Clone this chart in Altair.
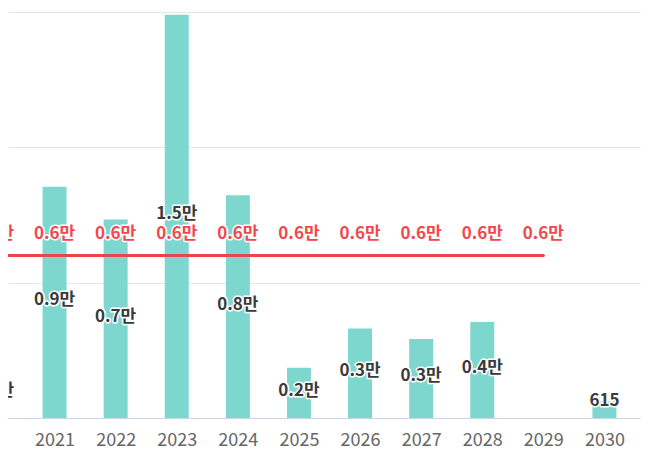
import altair as alt
import pandas as pd

years = [2020, 2021, 2022, 2023, 2024, 2025, 2026, 2027, 2028, 2029, 2030]
bar_values = [1850, 8540, 7330, 14900, 8230, 1860, 3310, 2920, 3550, None, 615]
bar_labels = ["0.2만", "0.9만", "0.7만", "1.5만", "0.8만", "0.2만", "0.3만", "0.3만", "0.4만", "", "615"]

line_years = [2020, 2021, 2022, 2023, 2024, 2025, 2026, 2027, 2028, 2029]
line_values = [6000, 6000, 6000, 6000, 6000, 6000, 6000, 6000, 6000, 6000]
line_labels = ["0.6만"] * 10

tick_years = years[1:]

FONT = "Noto Sans CJK KR"
BAR_COLOR = "#7dd7ce"
RED_LINE = "#e8464c"
RED_TEXT = "#f4474d"
DARK_TEXT = "#3a3a3a"

bars_df = pd.DataFrame({"year": years, "v": bar_values, "label": bar_labels})
bars_df = bars_df.dropna(subset=["v"])
line_df = pd.DataFrame({"year": line_years, "v": line_values, "label": line_labels})

x_scale = alt.Scale(domain=[2020.32, 2030.5], nice=False, zero=False)
x_axis = alt.Axis(values=tick_years, format="d", title=None, grid=False, ticks=False,
                  tickSize=0, domainColor="#ccd6eb", domainWidth=1,
                  labelColor="#666666", labelFontSize=18, labelFont=FONT,
                  labelPadding=13, labelFlush=False, labelOverlap=False)
y_scale = alt.Scale(domain=[0, 15000], nice=False, zero=True)
y_axis = alt.Axis(values=[0, 5000, 10000, 15000], labels=False, ticks=False, domain=False,
                  title=None, gridColor="#e6e6e6", gridWidth=1)

X = alt.X("year:Q", scale=x_scale, axis=x_axis)

bars = alt.Chart(bars_df).transform_calculate(
    bt="max(datum.v, 230)"
).mark_bar(size=24, color=BAR_COLOR).encode(
    x=X,
    y=alt.Y("bt:Q", scale=y_scale, axis=y_axis),
)

line = alt.Chart(line_df).mark_line(color=RED_LINE, strokeWidth=3, strokeCap="round").encode(
    x=X,
    y=alt.Y("v:Q", scale=y_scale, axis=y_axis),
)

def bar_text(outline):
    kw = dict(font=FONT, fontSize=17, fontWeight="bold", baseline="middle", align="center", dy=-2)
    if outline:
        kw.update(stroke="white", strokeWidth=3, strokeJoin="round", color="white")
    else:
        kw.update(color=DARK_TEXT)
    return alt.Chart(bars_df).transform_calculate(
        ly="max(datum.v / 2, 550)"
    ).mark_text(**kw).encode(
        x=X,
        y=alt.Y("ly:Q", scale=y_scale, axis=y_axis),
        text="label:N",
    )

def red_text(outline):
    kw = dict(font=FONT, fontSize=17, fontWeight="bold", baseline="middle", align="center", dy=-22)
    if outline:
        kw.update(stroke="white", strokeWidth=3, strokeJoin="round", color="white")
    else:
        kw.update(color=RED_TEXT)
    return alt.Chart(line_df).mark_text(**kw).encode(
        x=X,
        y=alt.Y("v:Q", scale=y_scale, axis=y_axis),
        text="label:N",
    )

chart = alt.layer(
    bars, line, bar_text(True), bar_text(False), red_text(True), red_text(False)
).properties(
    width=632, height=406,
    padding={"left": 0, "top": 4, "right": 19, "bottom": 34},
    autosize=alt.AutoSizeParams(type="none"),
).configure_view(stroke=None)

chart.save("out.html", embed_options={"renderer": "svg", "actions": False})
